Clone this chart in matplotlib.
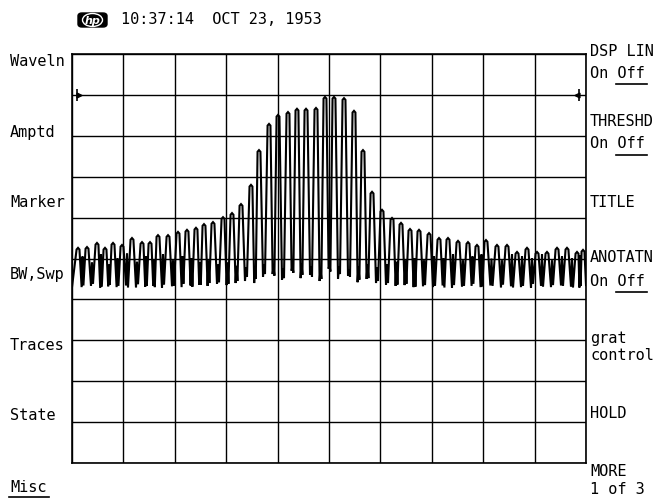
import matplotlib
matplotlib.use("Agg")
import matplotlib.pyplot as plt
from matplotlib.lines import Line2D
from matplotlib.patches import FancyBboxPatch, Ellipse

# ---------------- data (graticule divisions: x 0-10, y 0-10) ----------------
mode_x = [0.117, 0.292, 0.486, 0.642, 0.798, 0.973, 1.167, 1.362, 1.518, 1.673,
          1.868, 2.062, 2.237, 2.412, 2.568, 2.743, 2.938, 3.113, 3.288, 3.482,
          3.638, 3.833, 4.008, 4.202, 4.377, 4.553, 4.747, 4.922, 5.097, 5.292,
          5.486, 5.661, 5.837, 6.031, 6.226, 6.401, 6.576, 6.751, 6.946, 7.140,
          7.315, 7.510, 7.704, 7.879, 8.054, 8.268, 8.463, 8.658, 8.852, 9.047,
          9.241, 9.436, 9.630, 9.825, 9.942]
mode_peak = [5.26, 5.28, 5.38, 5.26, 5.38, 5.33, 5.50, 5.40, 5.40, 5.57,
             5.57, 5.65, 5.70, 5.75, 5.84, 5.89, 6.01, 6.11, 6.33, 6.80,
             7.65, 8.29, 8.51, 8.58, 8.66, 8.66, 8.68, 8.95, 8.95, 8.92,
             8.61, 7.65, 6.63, 6.19, 5.99, 5.87, 5.72, 5.70, 5.62, 5.50,
             5.50, 5.43, 5.40, 5.33, 5.45, 5.33, 5.33, 5.16, 5.26, 5.16,
             5.16, 5.26, 5.26, 5.16, 5.21]
gap_low = [4.30, 4.33, 4.28, 4.32, 4.30, 4.34, 4.29, 4.31, 4.33, 4.28,
           4.32, 4.30, 4.34, 4.36, 4.33, 4.38, 4.35, 4.40,
           4.45, 4.40, 4.55, 4.62, 4.48, 4.70, 4.52, 4.60, 4.45, 4.75,
           4.50, 4.58, 4.42, 4.50, 4.40,
           4.36, 4.33, 4.35, 4.30, 4.32, 4.30, 4.34, 4.28, 4.31, 4.33,
           4.30, 4.34, 4.29, 4.32, 4.30, 4.28, 4.33, 4.30, 4.34, 4.31, 4.29]
gap_bump = [5.05, 4.90, 5.10, 4.85, 5.00, 5.12, 4.92, 5.05, 4.98, 5.10,
            4.95, 5.05, 5.00, 4.90, 4.95, 4.85, 4.90, 4.82,
            4.78, 4.72, 4.85, 4.80, 4.75, 4.82, 4.88, 4.80, 4.75, 4.85,
            4.80, 4.72, 4.80, 4.85, 4.78,
            4.85, 4.92, 4.95, 5.00, 4.95, 5.05, 5.00, 5.10, 4.95, 5.05,
            5.10, 5.00, 4.95, 5.10, 5.05, 5.00, 5.10, 4.95, 5.05, 5.00, 5.08]
gap_low2 = [4.34, 4.38, 4.31, 4.36, 4.33, 4.29, 4.37, 4.33, 4.30, 4.36,
            4.33, 4.38, 4.31, 4.36, 4.40, 4.42, 4.38, 4.45,
            4.55, 4.50, 4.62, 4.58, 4.52, 4.65, 4.60, 4.55, 4.50, 4.68,
            4.62, 4.55, 4.48, 4.52, 4.45,
            4.40, 4.36, 4.38, 4.31, 4.35, 4.33, 4.29, 4.35, 4.33, 4.38,
            4.31, 4.33, 4.36, 4.29, 4.33, 4.38, 4.31, 4.35, 4.33, 4.29, 4.33]
trace_start = 4.30
trace_end = 4.35
marker_level = 9.0

header_text = "10:37:14  OCT 23, 1953"
left_keys = ["Waveln", "Amptd", "Marker", "BW,Swp", "Traces", "State", "Misc"]
right_keys = ["DSP LIN", "On Off", "THRESHD", "On Off", "TITLE", "ANOTATN",
              "On Off", "grat", "control", "HOLD", "MORE", "1 of 3"]

# ---------------- figure ----------------
W, H = 658, 503
fig = plt.figure(figsize=(W / 100, H / 100), dpi=100)
fig.patch.set_facecolor("white")

def fx(px):
    return px / W

def fy(py):
    return 1 - py / H

ax = fig.add_axes([fx(72), fy(463), 514 / W, 409 / H])
ax.set_xlim(0, 10)
ax.set_ylim(0, 10)
ax.set_xticks(range(11))
ax.set_yticks(range(11))
ax.tick_params(length=0, labelbottom=False, labelleft=False)
ax.grid(True, color="black", lw=1.0)
for s in ax.spines.values():
    s.set_color("black")
    s.set_linewidth(1.2)

# build trace from read peak / valley values
xs = [0.0]
ys = [trace_start]
hw = 0.028
n = len(mode_x)
for i in range(n):
    xs += [mode_x[i] - hw, mode_x[i], mode_x[i] + hw]
    ys += [mode_peak[i] - 0.04, mode_peak[i], mode_peak[i] - 0.04]
    if i < n - 1:
        d = mode_x[i + 1] - mode_x[i]
        xs += [mode_x[i] + 0.40 * d, mode_x[i] + 0.5 * d, mode_x[i] + 0.60 * d]
        ys += [gap_low[i], gap_bump[i], gap_low2[i]]
xs.append(10.0)
ys.append(trace_end)
ax.plot(xs, ys, color="black", lw=1.5, zorder=3, solid_joinstyle="miter")

# threshold markers
ax.plot([0.1], [marker_level], marker="|", ms=8, mew=1.2, color="black", zorder=4)
ax.plot([0.14], [marker_level], marker=">", ms=3.5, color="black", zorder=4)
ax.plot([9.86], [marker_level], marker="|", ms=8, mew=1.2, color="black", zorder=4)
ax.plot([9.82], [marker_level], marker="<", ms=3.5, color="black", zorder=4)

FONT = "DejaVu Sans Mono"
FS = 11

# header: hp logo + timestamp
logo = FancyBboxPatch((fx(78), fy(27)), (107 - 78) / W, 14 / H,
                      boxstyle="round,pad=0.0,rounding_size=0.006",
                      transform=fig.transFigure, facecolor="black",
                      edgecolor="black", lw=1)
fig.patches.append(logo)
fig.patches.append(Ellipse((fx(92.5), fy(20)), 20 / W, 13 / H,
                           transform=fig.transFigure, facecolor="none",
                           edgecolor="white", lw=1.0))
fig.text(fx(92.5), fy(20.5), "hp", color="white", fontsize=8, style="italic",
         fontweight="bold", ha="center", va="center", family="DejaVu Sans")
fig.text(fx(121), fy(20), header_text, fontsize=FS, family=FONT,
         ha="left", va="center", color="black")

# left softkeys
left_y = [61, 132, 203, 274, 345, 416, 487]
for lab, yy in zip(left_keys, left_y):
    fig.text(fx(10), fy(yy), lab, fontsize=FS, family=FONT, ha="left",
             va="center", color="black")
fig.add_artist(Line2D([fx(9), fx(49)], [fy(497), fy(497)],
                      transform=fig.transFigure, color="black", lw=1.2))

# right softkeys
right_y = [51, 73, 121, 143, 203, 258, 281, 338, 356, 414, 471, 490]
for lab, yy in zip(right_keys, right_y):
    fig.text(fx(590), fy(yy), lab, fontsize=FS, family=FONT, ha="left",
             va="center", color="black")
for uy in [84, 155, 292]:
    fig.add_artist(Line2D([fx(616), fx(647)], [fy(uy), fy(uy)],
                          transform=fig.transFigure, color="black", lw=1.2))

fig.savefig("out.png", dpi=100, facecolor="white")
